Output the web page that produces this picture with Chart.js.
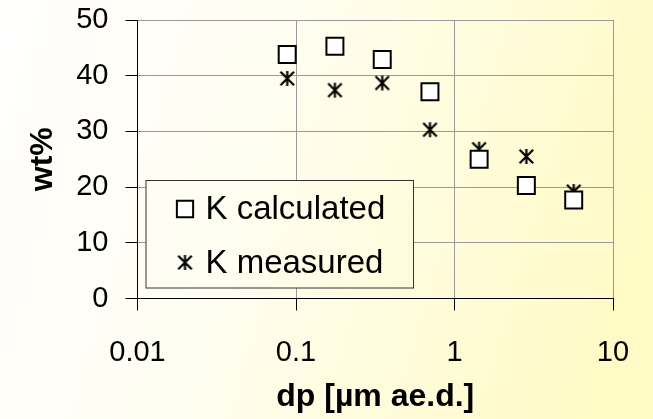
<!DOCTYPE html>
<html>
<head>
<meta charset="utf-8">
<script src="https://cdn.jsdelivr.net/npm/chart.js@4.4.1/dist/chart.umd.min.js"></script>
<style>
  html, body { margin: 0; padding: 0; }
  #wrap { width: 653px; height: 419px; }
</style>
</head>
<body>
<div id="wrap"><canvas id="chart" width="653" height="419"></canvas></div>
<script>
// Potassium mass fraction per impactor stage, calculated vs measured.
const stageDp = [0.088, 0.176, 0.35, 0.70, 1.43, 2.84, 5.65];
const kCalculated = [43.8, 45.3, 42.9, 37.1, 25.0, 20.3, 17.7];
const kMeasured = [39.5, 37.4, 38.7, 30.3, 26.8, 25.5, 19.2];
const xTicks = [0.01, 0.1, 1, 10];
const seriesLabels = ["K calculated", "K measured"];

const FONT = "'Liberation Sans', Arial, sans-serif";

// starMarker draws the six-armed asterisk (X plus a vertical bar) into a
// small canvas so it can be used as a Chart.js pointStyle.
function starMarker(size, lw) {
  const c = document.createElement("canvas");
  c.width = c.height = size;
  const ctx = c.getContext("2d");
  const m = size / 2;
  const r = size / 2 - 1;
  const d = r * 0.9;
  ctx.strokeStyle = "#000";
  ctx.lineWidth = lw;
  ctx.beginPath();
  ctx.moveTo(m, m - r);
  ctx.lineTo(m, m + r);
  ctx.moveTo(m - d, m - d);
  ctx.lineTo(m + d, m + d);
  ctx.moveTo(m + d, m - d);
  ctx.lineTo(m - d, m + d);
  ctx.stroke();
  return c;
}

function pageGradient(ctx, w, h) {
  const g = ctx.createLinearGradient(0, 0, w, h * 0.45);
  g.addColorStop(0, "#ffffff");
  g.addColorStop(0.4, "#fffef2");
  g.addColorStop(1, "#fffac6");
  return g;
}

// Paints the whole canvas with the pale white → yellow wash.
const backgroundPlugin = {
  id: "background",
  beforeDraw(chart) {
    const { ctx, width, height } = chart;
    ctx.save();
    ctx.fillStyle = pageGradient(ctx, width, height);
    ctx.fillRect(0, 0, width, height);
    ctx.restore();
  },
};

// Boxed legend sitting in the lower-left of the plot area.
const boxLegendPlugin = {
  id: "boxLegend",
  afterDraw(chart) {
    const { ctx, chartArea: ca, width, height } = chart;
    const bx = ca.left + 8.5, by = ca.top + 160.5, bw = 267.5, bh = 107.5;
    ctx.save();
    ctx.fillStyle = pageGradient(ctx, width, height);
    ctx.fillRect(bx, by, bw, bh);
    ctx.strokeStyle = "#333";
    ctx.lineWidth = 1;
    ctx.strokeRect(bx, by, bw, bh);
    const rows = [by + 28.5, by + 82];
    chart.data.datasets.forEach((ds, i) => {
      const y = rows[i];
      ctx.fillStyle = ds.backgroundColor;
      ctx.strokeStyle = ds.borderColor;
      ctx.lineWidth = ds.borderWidth;
      Chart.helpers.drawPoint(ctx, {
        pointStyle: ds.pointStyle,
        radius: ds.legendRadius,
        rotation: 0,
        borderWidth: ds.borderWidth,
      }, bx + 39, y);
      ctx.fillStyle = "#000";
      ctx.font = `33px ${FONT}`;
      ctx.textBaseline = "middle";
      ctx.textAlign = "left";
      ctx.fillText(ds.label, bx + 59.5, y + 1);
    });
    ctx.restore();
  },
};

const star = starMarker(17, 2.2);

new Chart(document.getElementById("chart"), {
  type: "scatter",
  data: {
    datasets: [
      {
        label: seriesLabels[0],
        data: stageDp.map((x, i) => ({ x, y: kCalculated[i] })),
        pointStyle: "rect",
        radius: 12,
        legendRadius: 11.5,
        backgroundColor: "#ffffff",
        borderColor: "#000000",
        borderWidth: 2,
      },
      {
        label: seriesLabels[1],
        data: stageDp.map((x, i) => ({ x, y: kMeasured[i] })),
        pointStyle: star,
        radius: 8,
        legendRadius: 8,
        backgroundColor: "#000000",
        borderColor: "#000000",
        borderWidth: 2,
      },
    ],
  },
  options: {
    responsive: false,
    animation: false,
    layout: { padding: { top: 20, right: 40, left: 0, bottom: 0 } },
    plugins: {
      legend: { display: false },
      tooltip: { enabled: false },
    },
    scales: {
      x: {
        type: "logarithmic",
        min: 0.01,
        max: 10,
        afterBuildTicks: (scale) => {
          scale.ticks = xTicks.map((v) => ({ value: v }));
        },
        afterFit: (scale) => {
          scale.height = 120.5;
          scale.paddingLeft = 0;
          scale.paddingRight = 0;
        },
        ticks: {
          color: "#000",
          font: { family: FONT, size: 29 },
          padding: 25,
          maxRotation: 0,
          autoSkip: false,
          callback: (v) => String(v),
        },
        grid: { color: "#9a9a9a", tickColor: "#000", tickLength: 12, lineWidth: 1 },
        border: { color: "#000", width: 1 },
        title: {
          display: true,
          text: "dp [µm ae.d.]",
          color: "#000",
          font: { family: FONT, size: 32, weight: "bold" },
          padding: { top: 0, bottom: 3 },
        },
      },
      y: {
        min: 0,
        max: 50,
        afterFit: (scale) => {
          scale.width = 137.5;
          scale.paddingTop = 0;
          scale.paddingBottom = 0;
        },
        ticks: {
          stepSize: 10,
          color: "#000",
          font: { family: FONT, size: 29 },
          padding: 17,
        },
        grid: { color: "#9a9a9a", tickColor: "#000", tickLength: 12, lineWidth: 1 },
        border: { color: "#000", width: 1 },
        title: {
          display: true,
          text: "wt%",
          color: "#000",
          font: { family: FONT, size: 32, weight: "bold" },
          padding: { top: 24, bottom: 0 },
        },
      },
    },
  },
  plugins: [backgroundPlugin, boxLegendPlugin],
});
</script>
</body>
</html>
